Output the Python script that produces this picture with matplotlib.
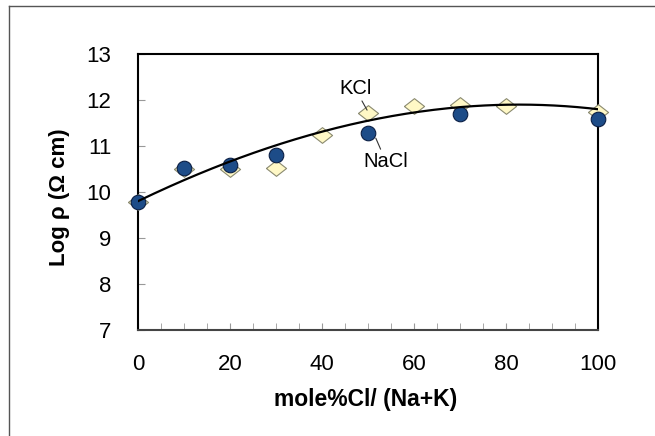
import matplotlib
matplotlib.use("Agg")
import matplotlib.pyplot as plt
from matplotlib.lines import Line2D
import numpy as np

plt.rcParams['font.family'] = ['Liberation Sans', 'DejaVu Sans']

# data
x_nacl = [0, 10, 20, 30, 50, 70, 100]
y_nacl = [9.79, 10.53, 10.59, 10.80, 11.28, 11.69, 11.58]
x_kcl = [0, 10, 20, 30, 40, 50, 60, 70, 80, 100]
y_kcl = [9.79, 10.50, 10.49, 10.53, 11.23, 11.71, 11.88, 11.89, 11.87, 11.73]
# trend line as drawn in the chart
x_trend = [0, 10, 20, 30, 40, 50, 60, 70, 80, 90, 100]
y_trend = [9.82, 10.24, 10.64, 11.01, 11.33, 11.58, 11.73, 11.83, 11.88, 11.88, 11.81]
xticks = [0, 20, 40, 60, 80, 100]
yticks = [7, 8, 9, 10, 11, 12, 13]

fig = plt.figure(figsize=(6.55, 4.36), dpi=100)
ax = fig.add_axes([138/655, 1-330/436, 460/655, 276/436])

coef = np.polyfit(x_trend, y_trend, 3)
xs = np.linspace(0, 100, 200)

diamond = [(-1, 0), (0, 0.78), (1, 0), (0, -0.78), (-1, 0)]
ax.plot(x_kcl, y_kcl, ls='none', marker=diamond, ms=14.5, mfc='#fff8c6', mec='#8a8a70',
        mew=0.8, zorder=3, clip_on=False)
ax.plot(x_nacl, y_nacl, 'o', ms=10.5, mfc='#1d4c88', mec='#0b1f45', mew=0.8, zorder=4, clip_on=False)
ax.plot(xs, np.polyval(coef, xs), '-', color='black', lw=1.6, zorder=5)

ax.set_xlim(0, 100)
ax.set_ylim(7, 13)
ax.set_xticks(xticks)
ax.set_xticks(np.arange(0, 101, 5), minor=True)
ax.set_yticks(yticks)
ax.tick_params(axis='both', which='both', direction='in', color='#999999', labelsize=16)
ax.tick_params(axis='x', which='major', length=5, pad=17)
ax.tick_params(axis='x', which='minor', length=5)
ax.tick_params(axis='y', which='major', length=5, pad=19)

for s in ['left', 'top', 'right']:
    ax.spines[s].set_color('black')
    ax.spines[s].set_linewidth(1.5)
ax.spines['bottom'].set_color('#444444')
ax.spines['bottom'].set_linewidth(1.5)

ax.annotate('KCl', xy=(49.8, 11.78), xytext=(47.2, 12.04), fontsize=14.5,
            arrowprops=dict(arrowstyle='-', color='#333333', lw=0.8, shrinkA=0, shrinkB=0),
            ha='center', va='bottom')
ax.annotate('NaCl', xy=(51.7, 11.17), xytext=(53.9, 10.87), fontsize=14.5,
            arrowprops=dict(arrowstyle='-', color='#333333', lw=0.8, shrinkA=0, shrinkB=0),
            ha='center', va='top')

fig.text(59/655, 1-197/436, 'Log ρ (Ω cm)', rotation=90, fontsize=16, fontweight='bold',
         ha='center', va='center')
fig.text(366/655, 1-399/436, 'mole%Cl/ (Na+K)', fontsize=16.5, fontweight='bold',
         ha='center', va='center')

# screenshot frame on top and left
fig.add_artist(Line2D([9/655, 9/655], [0, 1-6/436], color='#555555', lw=1))
fig.add_artist(Line2D([9/655, 1], [1-6/436, 1-6/436], color='#555555', lw=1))

fig.savefig('out.png', dpi=100)
